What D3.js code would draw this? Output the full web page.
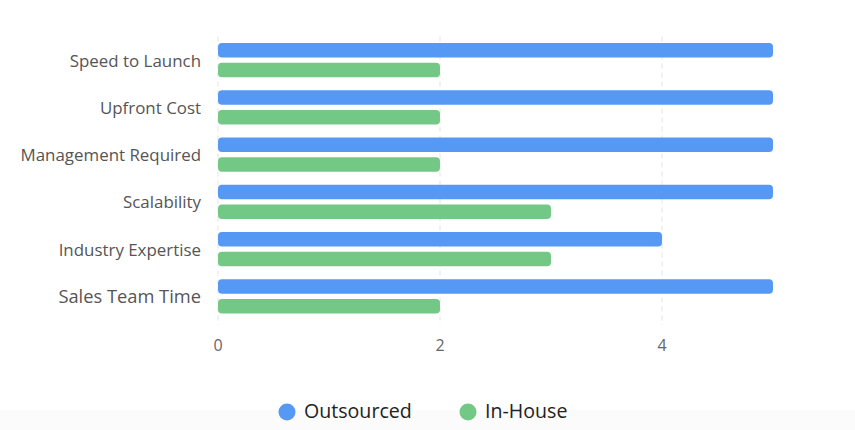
<!DOCTYPE html>
<html>
<head>
<meta charset="utf-8">
<script src="https://cdn.jsdelivr.net/npm/d3@7"></script>
<style>
  html, body { margin: 0; padding: 0; background: #fff; }
  svg { display: block; font-family: "Open Sans", "Noto Sans", sans-serif; }
</style>
</head>
<body>
<div id="chart"></div>
<script>
const categories = ['Speed to Launch', 'Upfront Cost', 'Management Required', 'Scalability', 'Industry Expertise', 'Sales Team Time'];
const seriesNames = ['Outsourced', 'In-House'];
const outsourced = [5, 5, 5, 5, 4, 5];
const inHouse = [2, 2, 2, 3, 3, 2];
const xTicks = [0, 2, 4];
const colors = ['#5599f4', '#74c886'];

const width = 855;
const height = 430;
const margin = { top: 36.5, right: 83, bottom: 110, left: 218 };

const svg = d3.select('#chart')
    .append('svg')
    .attr('width', width)
    .attr('height', height);

// faint strip at the bottom of the card
svg.append('rect')
    .attr('x', 0).attr('y', 410)
    .attr('width', width).attr('height', 20)
    .attr('fill', '#fbfbfb');

const xScale = d3.scaleLinear()
    .domain([0, 5])
    .range([margin.left, margin.left + 111 * 5]);

const yScale = d3.scaleBand()
    .domain(categories)
    .range([margin.top, height - margin.bottom])
    .padding(0);

const inner = d3.scaleBand()
    .domain(seriesNames)
    .range([0, yScale.bandwidth()])
    .paddingInner(0.275)
    .paddingOuter(0.32);

// gridlines
svg.append('g')
    .attr('class', 'gridlines')
    .selectAll('line')
    .data(xTicks)
    .join('line')
    .attr('x1', d => xScale(d))
    .attr('x2', d => xScale(d))
    .attr('y1', margin.top)
    .attr('y2', yScale.range()[1] + 5)
    .attr('stroke', '#e3e3e3')
    .attr('stroke-dasharray', '5,4');

// bars
const rows = categories.map((c, i) => ({ category: c, values: [outsourced[i], inHouse[i]] }));

const groups = svg.append('g')
    .selectAll('g')
    .data(rows)
    .join('g')
    .attr('transform', d => `translate(0, ${yScale(d.category)})`);

groups.selectAll('rect')
    .data(d => d.values.map((v, j) => ({ name: seriesNames[j], value: v, color: colors[j] })))
    .join('rect')
    .attr('x', xScale(0))
    .attr('y', d => inner(d.name))
    .attr('width', d => xScale(d.value) - xScale(0))
    .attr('height', inner.bandwidth())
    .attr('rx', 4)
    .attr('fill', d => d.color);

// y labels
svg.append('g')
    .selectAll('text')
    .data(categories)
    .join('text')
    .attr('x', margin.left - 17)
    .attr('y', d => yScale(d) + yScale.bandwidth() / 2 + 2)
    .attr('text-anchor', 'end')
    .attr('dominant-baseline', 'middle')
    .attr('fill', '#555')
    .style('font-size', (d, i) => i === categories.length - 1 ? '18.3px' : '16.9px')
    .text(d => d);

// x tick labels
svg.append('g')
    .selectAll('text')
    .data(xTicks)
    .join('text')
    .attr('x', d => xScale(d))
    .attr('y', 351)
    .attr('text-anchor', 'middle')
    .attr('fill', '#666')
    .style('font-size', '16px')
    .text(d => d);

// legend
const legendItems = [
    { name: seriesNames[0], color: colors[0], x: 287 },
    { name: seriesNames[1], color: colors[1], x: 468 }
];
const legend = svg.append('g')
    .selectAll('g')
    .data(legendItems)
    .join('g')
    .attr('transform', d => `translate(${d.x}, 412)`);

legend.append('circle')
    .attr('r', 8.5)
    .attr('fill', d => d.color);

legend.append('text')
    .attr('x', 17)
    .attr('y', 1)
    .attr('dominant-baseline', 'middle')
    .attr('fill', '#222')
    .style('font-size', '19.6px')
    .text(d => d.name);
</script>
</body>
</html>
